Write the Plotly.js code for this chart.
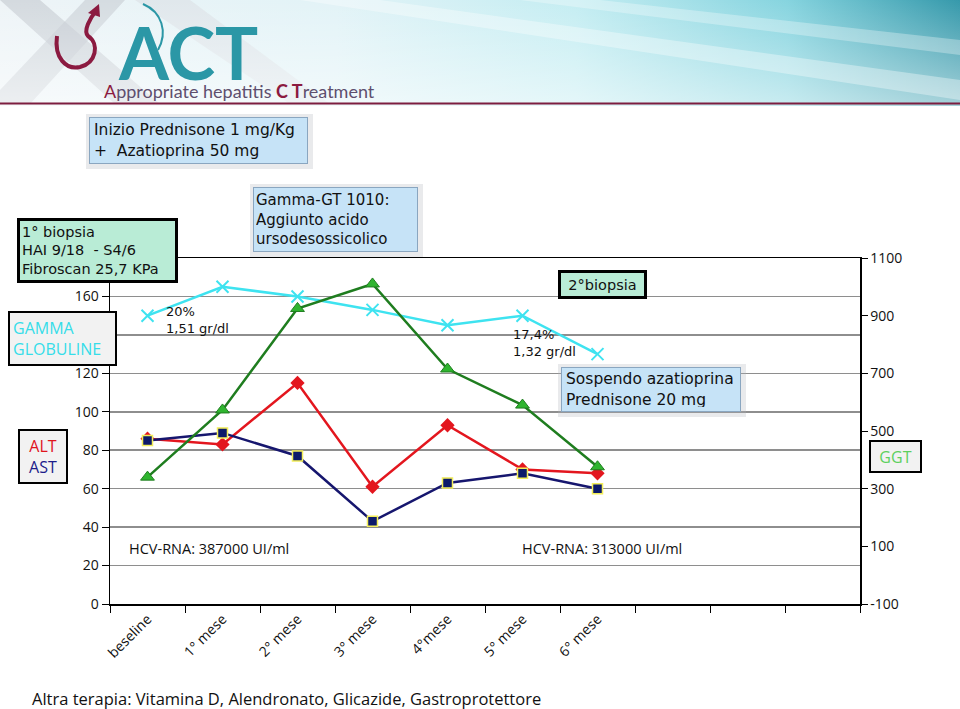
<!DOCTYPE html>
<html><head><meta charset="utf-8">
<script src="https://cdn.plot.ly/plotly-3.0.1.min.js"></script>
<style>html,body{margin:0;padding:0;background:#fff;}#chart{width:960px;height:709px;}</style>
</head><body><div id="chart"></div>
<script>
// ---- data ----
const months = ["beseline", "1° mese", "2° mese", "3° mese", "4°mese", "5° mese", "6° mese"];
const emptySlots = ["slot8", "slot9", "slot10"];
const altValues = [86, 83, 115, 61, 93, 70, 68];
const astValues = [85, 89, 77, 43, 63, 68, 60];
const ggtValues = [340, 573, 925, 1010, 715, 590, 376];
const gammaValues = [150, 165, 160, 153, 145, 150, 130];
const leftTickVals = [0, 20, 40, 60, 80, 100, 120, 140, 160, 180];
const leftTickText = ["0", "20", "40", "60", "80", "100", "120", "", "160", ""];
const rightTickVals = [-100, 100, 300, 500, 700, 900, 1100];
const rightTickText = ["-100", "100", "300", "500", "700", "900", "1100"];

// ---- pixel helpers for annotations ----
const L = 110, R = 860, T = 258, B = 604;
const px = x => (x - L) / (R - L);
const py = y => (B - y) / (B - T);

const boxFont = {family: "DejaVu Sans", size: 15.5, color: "#111"};
const bioFont = {family: "DejaVu Sans", size: 14.5, color: "#111"};
const calFont = {family: "Open Sans", size: 14.5, color: "#111"};

function box(x0, y0, x1, y1, text, o) {
  const bw = o.bw, pad = o.pad || 3;
  return {
    xref: "paper", yref: "paper", x: px((x0 + x1) / 2), y: py((y0 + y1) / 2),
    xanchor: "center", yanchor: "middle", showarrow: false,
    width: x1 - x0 - 2 * (bw + pad), height: y1 - y0 - 2 * (bw + pad),
    bgcolor: o.bg, bordercolor: o.bc, borderwidth: bw, borderpad: pad,
    align: o.align || "left", valign: "middle", text: text, font: o.font
  };
}
function txt(x, y, text, font, xanchor) {
  return {xref: "paper", yref: "paper", x: px(x), y: py(y), xanchor: xanchor || "left",
    yanchor: "middle", showarrow: false, align: "left", text: text, font: font};
}
function shadow(x0, y0, x1, y1) {
  return {type: "rect", xref: "paper", yref: "paper", layer: "above",
    x0: px(x0 - 3), x1: px(x1 + 5), y0: py(y1 + 5), y1: py(y0 - 3),
    fillcolor: "rgba(175,180,188,0.28)", line: {width: 0}};
}

const blue = {bw: 1, bc: "#8aa6c0", bg: "#c6e3f7", font: boxFont, pad: 4};

const annotations = [
  {xref: "paper", yref: "paper", x: px(116), y: py(52), xanchor: "left", yanchor: "middle",
   showarrow: false, text: "ACT", font: {family: "Lato", size: 72, color: "#2b97a6", weight: 700}},
  {xref: "paper", yref: "paper", x: px(102), y: py(91), xanchor: "left", yanchor: "middle",
   showarrow: false,
   text: "<span style='color:#8b1a40'>A</span>ppropriate hepatitis <b><span style='color:#8b1a40'>C T</span></b>reatment",
   font: {family: "Lato", size: 18, color: "#5e4f6e"}},
  box(89, 117, 308, 164, "Inizio Prednisone 1 mg/Kg<br>+  Azatioprina 50 mg", blue),
  box(253, 187, 418, 252, "Gamma-GT 1010:<br>Aggiunto acido<br>ursodesossicolico",
      {bw: 1, bc: "#8aa6c0", bg: "#c6e3f7", font: {family: "DejaVu Sans", size: 15, color: "#111"}, pad: 2}),
  box(561, 367, 741, 412, "Sospendo azatioprina<br>Prednisone 20 mg", blue),
  box(17, 218, 178, 283, "1° biopsia<br>HAI 9/18  - S4/6<br>Fibroscan 25,7 KPa",
      {bw: 3, bc: "#000", bg: "#b9ecd6", font: bioFont, pad: 2}),
  box(558, 270, 647, 299, "2°biopsia",
      {bw: 3, bc: "#000", bg: "#b9ecd6", font: bioFont, pad: 2, align: "center"}),
  box(8, 311, 117, 366, "GAMMA<br>GLOBULINE",
      {bw: 2, bc: "#000", bg: "#f2f2f2", font: {family: "Open Sans", size: 16, color: "#35dde9"}, pad: 3}),
  box(18, 429, 68, 484, "<span style='color:#e0141c'>ALT</span><br><span style='color:#1c1c8a'>AST</span>",
      {bw: 2, bc: "#000", bg: "#f2f2f2", font: {family: "Open Sans", size: 16}, pad: 2, align: "center"}),
  box(869, 440, 922, 473, "GGT",
      {bw: 2, bc: "#000", bg: "#f2f2f2", font: {family: "Open Sans", size: 16, color: "#5ed05e"}, pad: 2, align: "center"}),
  txt(164, 320, "20%<br>1,51 gr/dl", {family: "DejaVu Sans", size: 13, color: "#111"}),
  txt(511, 343, "17,4%<br>1,32 gr/dl", {family: "DejaVu Sans", size: 13, color: "#111"}),
  txt(127, 548, "HCV-RNA: 387000 UI/ml", calFont),
  txt(520, 548, "HCV-RNA: 313000 UI/ml", calFont),
  txt(30, 698, "Altra terapia: Vitamina D, Alendronato, Glicazide, Gastroprotettore",
      {family: "Open Sans", size: 16.5, color: "#111"})
];

const shapes = [shadow(89, 117, 308, 164), shadow(253, 187, 418, 252), shadow(561, 367, 741, 412)];

const svg = "<svg xmlns='http://www.w3.org/2000/svg' width='960' height='106' viewBox='0 0 960 106'>" +
  "<defs><linearGradient id='g' x1='0' y1='0' x2='1' y2='0'>" +
  "<stop offset='0' stop-color='#eef4f7'/><stop offset='0.35' stop-color='#e2f3f7'/>" +
  "<stop offset='0.6' stop-color='#c4edf2'/><stop offset='0.82' stop-color='#86d4df'/>" +
  "<stop offset='1' stop-color='#3699ab'/></linearGradient>" +
  "<linearGradient id='v' x1='0' y1='0' x2='0' y2='1'><stop offset='0' stop-color='#fff' stop-opacity='0'/>" +
  "<stop offset='1' stop-color='#fff' stop-opacity='0.55'/></linearGradient></defs>" +
  "<rect width='960' height='106' fill='url(#g)'/>" +
  "<path d='M0 0 L40 0 L160 104 L115 104 Z' fill='#c3c8cf' opacity='0.6'/>" +
  "<path d='M85 0 L125 0 L30 104 L0 104 L0 90 Z' fill='#c3c8cf' opacity='0.55'/>" +
  "<path d='M135 0 L190 0 L330 104 L290 104 Z' fill='#d6dade' opacity='0.45'/>" +
  "<path d='M300 0 L380 0 L960 80 L960 100 Z' fill='#fff' opacity='0.35'/>" +
  "<path d='M520 0 L600 0 L960 40 L960 55 Z' fill='#fff' opacity='0.3'/>" +
  "<rect width='960' height='106' fill='url(#v)'/>" +
  "<path d='M57 36 C54 58 66 70 80 67 C96 63 100 44 88 36 C83 31 90 18 96 11' fill='none' stroke='#8b1a40' stroke-width='4'/>" +
  "<path d='M99 4 L88 13 L100 17 Z' fill='#8b1a40'/>" +
  "<path d='M143 4 C162 12 168 32 158 50' fill='none' stroke='#2b97a6' stroke-width='2'/>" +
  "<line x1='0' y1='103.5' x2='960' y2='103.5' stroke='#7d1d3f' stroke-width='2'/></svg>";

const images = [{
  source: "data:image/svg+xml;charset=utf-8," + encodeURIComponent(svg),
  xref: "paper", yref: "paper", x: px(0), y: py(0), sizex: 960 / (R - L), sizey: 106 / (B - T),
  sizing: "stretch", xanchor: "left", yanchor: "top", layer: "below"
}];

const traces = [
  {x: months, y: gammaValues, type: "scatter", mode: "lines+markers", name: "Gamma globuline",
   line: {color: "#3ee3f0", width: 2.5},
   marker: {symbol: "x-thin-open", size: 12, line: {color: "#3ee3f0", width: 2}}},
  {x: months, y: ggtValues, yaxis: "y2", type: "scatter", mode: "lines+markers", name: "GGT",
   line: {color: "#1f7d1f", width: 2.5},
   marker: {symbol: "triangle-up", size: 12, color: "#2fb52f", line: {color: "#1f7d1f", width: 1}}},
  {x: months, y: altValues, type: "scatter", mode: "lines+markers", name: "ALT",
   line: {color: "#e3161e", width: 2.5},
   marker: {symbol: "diamond", size: 11, color: "#e3161e"}},
  {x: months, y: astValues, type: "scatter", mode: "lines+markers", name: "AST",
   line: {color: "#16166e", width: 2.5},
   marker: {symbol: "square", size: 10, color: "#0c1a6a", line: {color: "#f3ee5a", width: 1.5}}}
];

const allCats = months.concat(emptySlots);
const layout = {
  width: 960, height: 709,
  margin: {l: L, r: 960 - R, t: T, b: 709 - B},
  paper_bgcolor: "#fff", plot_bgcolor: "#fff",
  showlegend: false,
  xaxis: {
    type: "category", categoryorder: "array", categoryarray: allCats,
    tickmode: "array", tickvals: allCats, ticktext: months.concat(["", "", ""]),
    range: [-0.5, 9.5], tickson: "boundaries", ticks: "outside", ticklen: 7, tickcolor: "#000",
    tickangle: -45, showline: true, linecolor: "#000", linewidth: 1.5, mirror: true,
    showgrid: false, zeroline: false, fixedrange: true,
    tickfont: {family: "Open Sans", size: 14, color: "#111"}
  },
  yaxis: {
    range: [0, 180], tickmode: "array", tickvals: leftTickVals, ticktext: leftTickText,
    showgrid: true, gridcolor: "#8e8e8e", gridwidth: 1.5,
    showline: true, linecolor: "#000", linewidth: 1.5, ticks: "outside", ticklen: 7, tickcolor: "#000",
    zeroline: false, tickfont: {family: "Open Sans", size: 14, color: "#111"}
  },
  yaxis2: {
    overlaying: "y", side: "right", range: [-100, 1100], tickmode: "array",
    tickvals: rightTickVals, ticktext: rightTickText,
    showgrid: false, showline: true, linecolor: "#000", linewidth: 1.5, ticks: "outside", ticklen: 6,
    tickcolor: "#000", zeroline: false, tickfont: {family: "Open Sans", size: 14, color: "#111"}
  },
  annotations: annotations,
  shapes: shapes,
  images: images
};

Plotly.newPlot("chart", traces, layout, {displayModeBar: false, staticPlot: true});
</script></body></html>
